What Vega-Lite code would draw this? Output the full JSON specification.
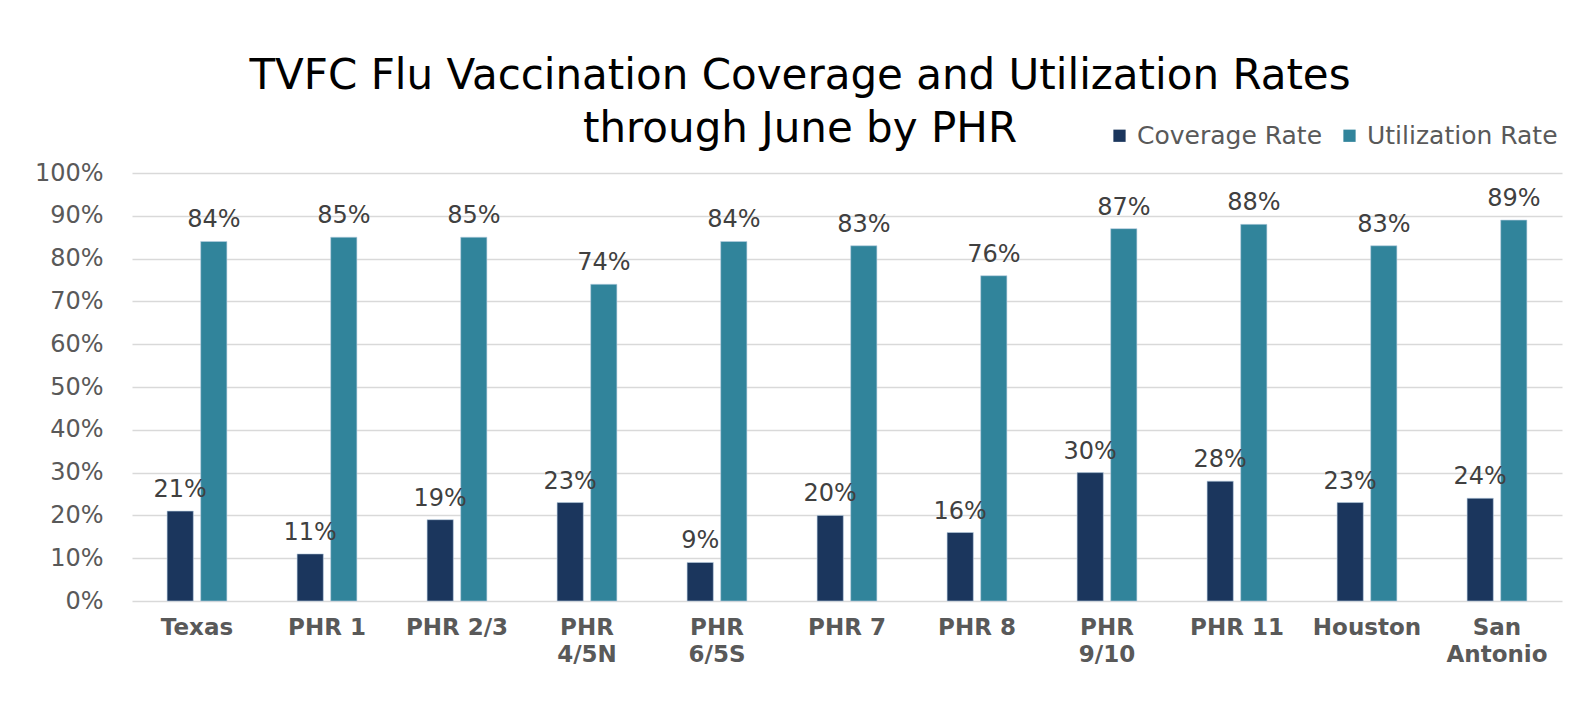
{
  "$schema": "https://vega.github.io/schema/vega-lite/v6.json",
  "width": 1430,
  "height": 428,
  "autosize": {"type": "none"},
  "padding": {"left": 132, "top": 173, "right": 21, "bottom": 127},
  "background": "white",
  "title": {
    "text": ["TVFC Flu Vaccination Coverage and Utilization Rates", "through June by PHR"],
    "font": "DejaVu Sans",
    "fontSize": 42,
    "fontWeight": "normal",
    "color": "#000000",
    "anchor": "middle",
    "dx": -47,
    "lineHeight": 53,
    "offset": -61,
    "baseline": "alphabetic"
  },
  "data": {
    "values": [
      {"region": "Texas", "measure": "Coverage Rate", "value": 0.21},
      {"region": "Texas", "measure": "Utilization Rate", "value": 0.84},
      {"region": "PHR 1", "measure": "Coverage Rate", "value": 0.11},
      {"region": "PHR 1", "measure": "Utilization Rate", "value": 0.85},
      {"region": "PHR 2/3", "measure": "Coverage Rate", "value": 0.19},
      {"region": "PHR 2/3", "measure": "Utilization Rate", "value": 0.85},
      {"region": "PHR 4/5N", "measure": "Coverage Rate", "value": 0.23},
      {"region": "PHR 4/5N", "measure": "Utilization Rate", "value": 0.74},
      {"region": "PHR 6/5S", "measure": "Coverage Rate", "value": 0.09},
      {"region": "PHR 6/5S", "measure": "Utilization Rate", "value": 0.84},
      {"region": "PHR 7", "measure": "Coverage Rate", "value": 0.20},
      {"region": "PHR 7", "measure": "Utilization Rate", "value": 0.83},
      {"region": "PHR 8", "measure": "Coverage Rate", "value": 0.16},
      {"region": "PHR 8", "measure": "Utilization Rate", "value": 0.76},
      {"region": "PHR 9/10", "measure": "Coverage Rate", "value": 0.30},
      {"region": "PHR 9/10", "measure": "Utilization Rate", "value": 0.87},
      {"region": "PHR 11", "measure": "Coverage Rate", "value": 0.28},
      {"region": "PHR 11", "measure": "Utilization Rate", "value": 0.88},
      {"region": "Houston", "measure": "Coverage Rate", "value": 0.23},
      {"region": "Houston", "measure": "Utilization Rate", "value": 0.83},
      {"region": "San Antonio", "measure": "Coverage Rate", "value": 0.24},
      {"region": "San Antonio", "measure": "Utilization Rate", "value": 0.89}
    ]
  },
  "encoding": {
    "x": {
      "field": "region",
      "type": "nominal",
      "sort": null,
      "scale": {"paddingInner": 0.54, "paddingOuter": 0.27},
      "axis": {
        "title": null,
        "labelAngle": 0,
        "labelFont": "DejaVu Sans",
        "labelFontWeight": "bold",
        "labelFontSize": 23,
        "labelColor": "#595959",
        "labelPadding": 15,
        "labelBaseline": "top",
        "labelLineHeight": 27,
        "labelExpr": "datum.label == 'San Antonio' ? ['San', 'Antonio'] : (indexof(['PHR 4/5N', 'PHR 6/5S', 'PHR 9/10'], datum.label) >= 0 ? split(datum.label, ' ') : datum.label)",
        "ticks": false,
        "domain": false,
        "grid": false
      }
    },
    "xOffset": {
      "field": "measure",
      "type": "nominal",
      "scale": {"paddingInner": 0.22, "paddingOuter": 0}
    },
    "y": {
      "field": "value",
      "type": "quantitative",
      "scale": {"domain": [0, 1], "nice": false},
      "axis": {
        "title": null,
        "values": [0, 0.1, 0.2, 0.3, 0.4, 0.5, 0.6, 0.7, 0.8, 0.9, 1],
        "format": ".0%",
        "labelFont": "DejaVu Sans",
        "labelFontSize": 24,
        "labelColor": "#595959",
        "labelPadding": 29,
        "ticks": false,
        "domain": false,
        "grid": true,
        "gridColor": "#d9d9d9",
        "gridWidth": 1.5
      }
    }
  },
  "layer": [
    {
      "mark": {"type": "bar", "stroke": "#b8cfe0", "strokeWidth": 0.6},
      "encoding": {
        "color": {
          "field": "measure",
          "type": "nominal",
          "scale": {"domain": ["Coverage Rate", "Utilization Rate"], "range": ["#1b365d", "#31849b"]},
          "legend": {
            "title": null,
            "orient": "none",
            "direction": "horizontal",
            "legendX": 975,
            "legendY": -50,
            "symbolType": "square",
            "symbolSize": 150,
            "symbolStrokeWidth": 0,
            "labelFont": "DejaVu Sans",
            "labelFontSize": 25,
            "labelColor": "#595959",
            "labelOffset": 5,
            "labelLimit": 500,
            "columnPadding": 14
          }
        }
      }
    },
    {
      "mark": {"type": "text", "baseline": "alphabetic", "dy": -14, "font": "DejaVu Sans", "fontSize": 24, "color": "#404040"},
      "encoding": {
        "text": {"field": "value", "type": "quantitative", "format": ".0%"}
      }
    }
  ],
  "config": {"view": {"stroke": null}}
}
